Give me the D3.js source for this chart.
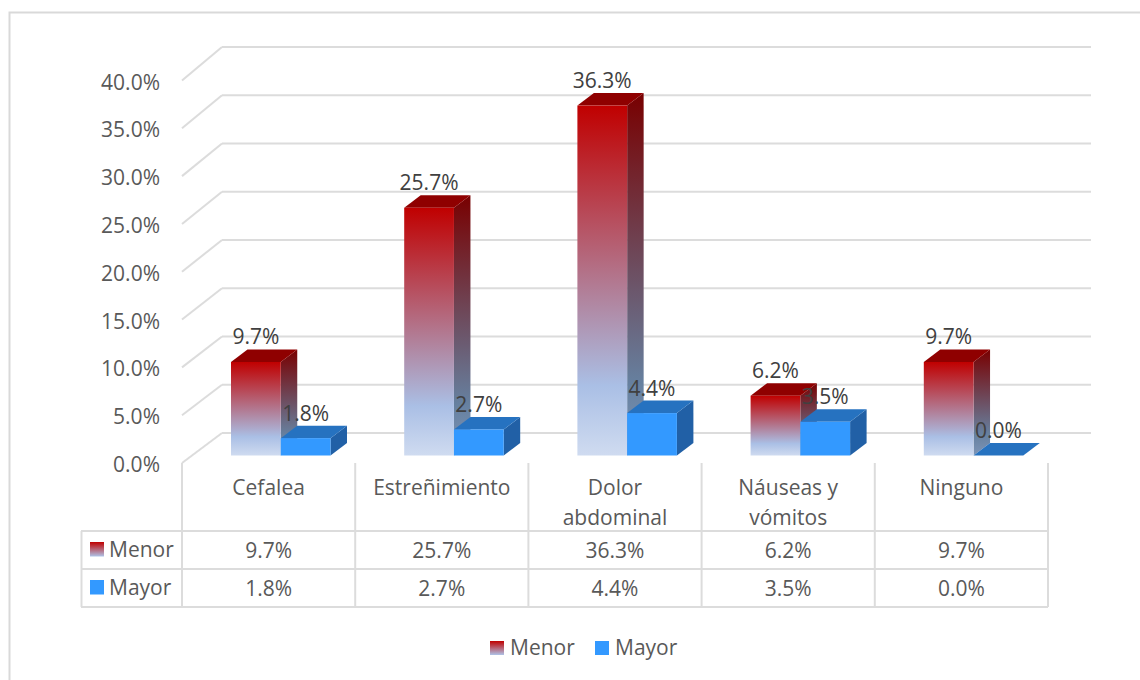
<!DOCTYPE html>
<html><head><meta charset="utf-8">
<script src="https://cdn.jsdelivr.net/npm/d3@7"></script>
<style>html,body{margin:0;padding:0;background:#fff}svg{display:block}text{font-family:"Open Sans",sans-serif}</style>
</head><body><svg id="c" width="1140" height="680"></svg>
<script>
const categories = [["Cefalea"],["Estreñimiento"],["Dolor","abdominal"],["Náuseas y","vómitos"],["Ninguno"]];
const seriesNames = ["Menor","Mayor"];
const menor = [9.7,25.7,36.3,6.2,9.7];
const mayor = [1.8,2.7,4.4,3.5,0.0];
const ticks = [0,5,10,15,20,25,30,35,40];
const fmt = v => v.toFixed(1)+"%";
const grid="#dcdcdc", txt="#595959", lab="#404040";

const svg=d3.select("#c");
const defs=svg.append("defs");
function grad(id,stops){
  const g=defs.append("linearGradient").attr("id",id).attr("x1",0).attr("y1",0).attr("x2",0).attr("y2",1);
  stops.forEach(s=>g.append("stop").attr("offset",s[0]).attr("stop-color",s[1]));
}
grad("front",[[0,"#c00000"],[0.8,"#aabfe5"],[1,"#cfdbf0"]]);
grad("side",[[0,"#780000"],[0.8,"#66809f"],[1,"#7d95b8"]]);
grad("sw",[[0,"#c00000"],[1,"#aec3e8"]]);

// chart frame: only the top and left edges fall inside the picture
svg.append("path").attr("d","M9.5,680V12.5H1140").attr("fill","none").attr("stroke","#d9d9d9").attr("stroke-width",2);

const x=d3.scaleBand().domain(d3.range(5)).range([182,1048]);
const inner=d3.scaleBand().domain([0,1]).range([49,148.5]);
const yFront=d3.scaleLinear().domain([0,40]).range([455.5,69.9]);
const yAxis=d3.scaleLinear().domain([0,40]).range([463,80.5]);
const yWall=d3.scaleLinear().domain([0,40]).range([433,47]);
const dx=16.5, dy=-12.5;

// walls
const g=svg.append("g").attr("fill","none").attr("stroke",grid).attr("stroke-width",2);
ticks.forEach(t=>{
  g.append("line").attr("x1",222).attr("x2",1091).attr("y1",yWall(t)).attr("y2",yWall(t));
  g.append("line").attr("x1",182).attr("x2",222).attr("y1",yAxis(t)).attr("y2",yWall(t));
});
// tick labels
svg.selectAll(".tick").data(ticks).join("text").attr("class","tick")
  .attr("x",160).attr("y",t=>yAxis(t)+9).attr("text-anchor","end")
  .attr("font-size",21).attr("fill",txt).text(t=>fmt(t));

// bars
function bar(i,s,v,front,side,top){
  const x0=x(i)+inner(s), w=inner.bandwidth(), y0=yFront(v), b=yFront(0);
  const G=svg.append("g");
  G.append("path").attr("fill",side).attr("d",d3.line()([[x0+w,y0],[x0+w+dx,y0+dy],[x0+w+dx,b+dy],[x0+w,b]])+"Z");
  G.append("path").attr("fill",top).attr("d",d3.line()([[x0,y0],[x0+dx,y0+dy],[x0+w+dx,y0+dy],[x0+w,y0]])+"Z");
  if(v>0) G.append("rect").attr("x",x0).attr("y",y0).attr("width",w).attr("height",b-y0).attr("fill",front);
}
categories.forEach((c,i)=>{
  bar(i,0,menor[i],"url(#front)","url(#side)","#8f0000");
  bar(i,1,mayor[i],"#3399ff","#2160a6","#2672c0");
});
// data labels
categories.forEach((c,i)=>{
  [[menor,0],[mayor,1]].forEach(([arr,s])=>{
    svg.append("text").attr("x",x(i)+inner(s)+inner.bandwidth()/2).attr("y",yFront(arr[i])+dy-5)
      .attr("text-anchor","middle").attr("font-size",21).attr("fill",lab).text(fmt(arr[i]));
  });
});

// data table
const rows=[531,569,607];
const t=svg.append("g").attr("stroke",grid).attr("stroke-width",2);
x.domain().concat([5]).forEach(i=>{
  const xx=i<5?x(i):1048;
  t.append("line").attr("x1",xx).attr("x2",xx).attr("y1",463).attr("y2",607);
});
t.append("line").attr("x1",81.5).attr("x2",81.5).attr("y1",531).attr("y2",607);
rows.forEach(r=>t.append("line").attr("x1",81).attr("x2",1048).attr("y1",r).attr("y2",r));

categories.forEach((c,i)=>{
  const cx=x(i)+x.bandwidth()/2;
  c.forEach((l,k)=>svg.append("text").attr("x",cx).attr("y",495+k*30).attr("text-anchor","middle")
    .attr("font-size",21).attr("fill",txt).text(l));
  svg.append("text").attr("x",cx).attr("y",557.5).attr("text-anchor","middle").attr("font-size",21).attr("fill",txt).text(fmt(menor[i]));
  svg.append("text").attr("x",cx).attr("y",595.5).attr("text-anchor","middle").attr("font-size",21).attr("fill",txt).text(fmt(mayor[i]));
});
[[556,"url(#sw)"],[594,"#3399ff"]].forEach(([y,f],k)=>{
  svg.append("rect").attr("x",90).attr("y",y-14).attr("width",14).attr("height",14.5).attr("fill",f);
  svg.append("text").attr("x",109).attr("y",y+.5).attr("font-size",21).attr("fill",txt).text(seriesNames[k]);
});
// legend
[[490,510],[595,615]].forEach(([rx,tx],k)=>{
  svg.append("rect").attr("x",rx).attr("y",641).attr("width",14).attr("height",14).attr("fill",k?"#3399ff":"url(#sw)");
  svg.append("text").attr("x",tx).attr("y",655).attr("font-size",21).attr("fill",txt).text(seriesNames[k]);
});
</script></body></html>
